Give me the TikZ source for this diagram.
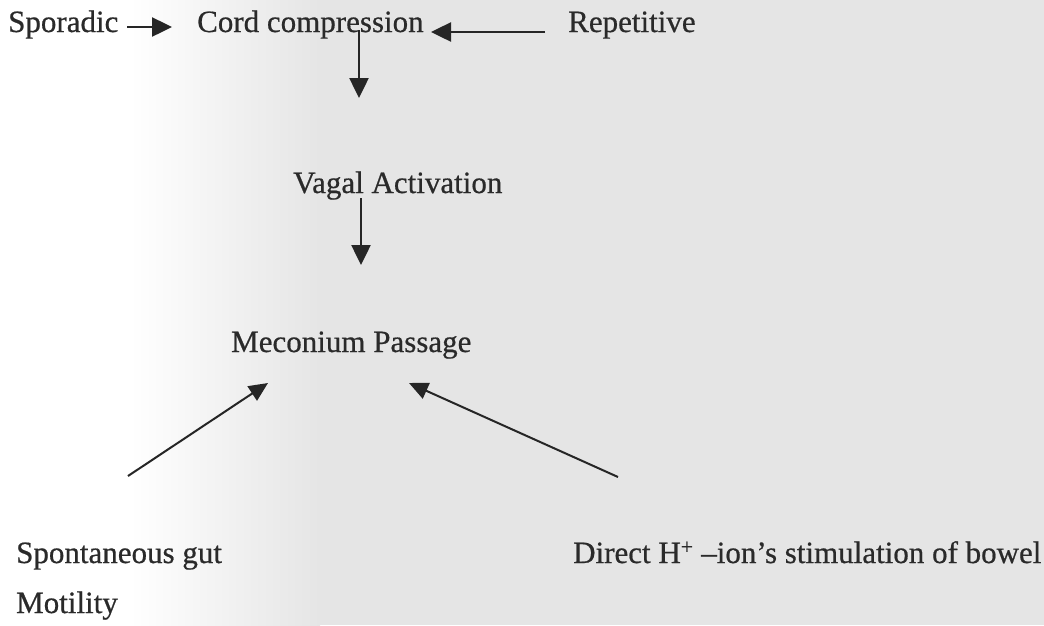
\documentclass[tikz,border=0pt]{standalone}
\usepackage{fontspec}
\setmainfont[FakeBold=0.6]{Liberation Serif}
\usetikzlibrary{arrows.meta}
\definecolor{txt}{HTML}{2A2A2A}
\definecolor{ink}{HTML}{262626}
\definecolor{paper}{HTML}{E5E5E5}
\begin{document}
\begin{tikzpicture}[x=1pt,y=-1pt,
  lbl/.style={anchor=base west,inner sep=0pt,text=txt,font=\fontsize{31}{37}\selectfont},
  arr/.style={draw=ink,line width=2.5pt,-{Triangle[length=20pt,width=19pt]}},
  diag/.style={draw=ink,line width=2pt,-{Triangle[length=19pt,width=17pt]}}]
% background (scanned page tone)
\useasboundingbox (0,0) rectangle (1044,625);
\fill[white] (0,0) rectangle (1044,625);
\shade[left color=white,right color=paper] (130,0) rectangle (320,625);
\fill[paper] (320,0) rectangle (1044,625);
% texts
\node[lbl] (spor) at (8,32) {Sporadic};
\node[lbl] (cord) at (197,32) {Cord compression};
\node[lbl] (rep)  at (568,32) {Repetitive};
\node[lbl] (vag)  at (293,193) {Vagal Activation};
\node[lbl] (mec)  at (231,352) {Meconium Passage};
\node[lbl] (spon) at (16,563) {Spontaneous gut};
\node[lbl] (mot)  at (16,613) {Motility};
\node[lbl] (dir)  at (573,563) {Direct H\textsuperscript{+} –ion’s stimulation of bowel};
% arrow ends
\coordinate (a1s) at (127,27);  \coordinate (a1e) at (172,27);
\coordinate (a2s) at (545,32);  \coordinate (a2e) at (431,32);
\coordinate (v1s) at (359,30);  \coordinate (v1e) at (359,98);
\coordinate (v2s) at (361,198); \coordinate (v2e) at (361,265);
\coordinate (d1s) at (128,476); \coordinate (d1e) at (268,383);
\coordinate (d2s) at (618,477); \coordinate (d2e) at (409,383);
% connectors
\draw[arr] (a1s) -- (a1e);
\draw[arr] (a2s) -- (a2e);
\draw[arr] (v1s) -- (v1e);
\draw[arr] (v2s) -- (v2e);
\draw[diag] (d1s) -- (d1e);
\draw[diag] (d2s) -- (d2e);
\end{tikzpicture}
\end{document}
